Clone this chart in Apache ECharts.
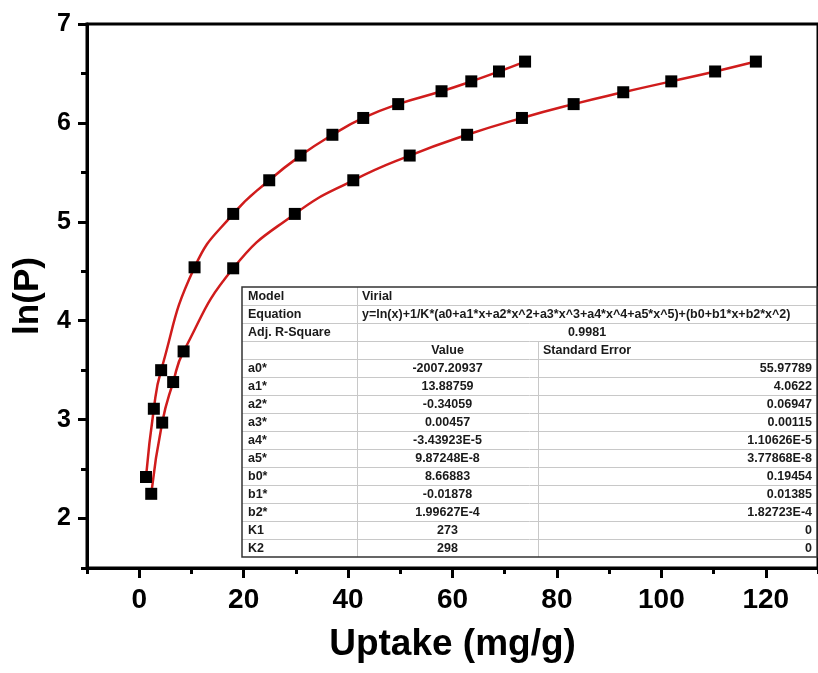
<!DOCTYPE html>
<html>
<head>
<meta charset="utf-8">
<script src="https://cdn.jsdelivr.net/npm/echarts@6/dist/echarts.min.js"></script>
<style>
  html, body { margin: 0; padding: 0; background: #fff; }
  #chart { width: 818px; height: 673px; }
</style>
</head>
<body>
<div id="chart"></div>
<script>
// data
var uptake273 = [1.3, 2.8, 4.2, 10.6, 18.0, 24.9, 30.9, 37.0, 42.9, 49.6, 57.9, 63.6, 68.9, 73.9];
var lnP273 = [2.42, 3.11, 3.50, 4.54, 5.08, 5.42, 5.67, 5.88, 6.05, 6.19, 6.32, 6.42, 6.52, 6.62];
var uptake298 = [2.3, 4.4, 6.5, 8.5, 18.0, 29.8, 41.0, 51.8, 62.8, 73.3, 83.2, 92.7, 101.9, 110.3, 118.1];
var lnP298 = [2.25, 2.97, 3.38, 3.69, 4.53, 5.08, 5.42, 5.67, 5.88, 6.05, 6.19, 6.31, 6.42, 6.52, 6.62];

var xMajor = [0, 20, 40, 60, 80, 100, 120];
var xMinor = [-10, 10, 30, 50, 70, 90, 110, 130];
var yMajor = [2, 3, 4, 5, 6, 7];
var yMinor = [1.5, 2.5, 3.5, 4.5, 5.5, 6.5];

// fit report table
var headRows = [
    ["Model", "Virial"],
    ["Equation", "y=ln(x)+1/K*(a0+a1*x+a2*x^2+a3*x^3+a4*x^4+a5*x^5)+(b0+b1*x+b2*x^2)"],
    ["Adj. R-Square", "0.9981"]
];
var paramNames = ["a0*", "a1*", "a2*", "a3*", "a4*", "a5*", "b0*", "b1*", "b2*", "K1", "K2"];
var paramValues = ["-2007.20937", "13.88759", "-0.34059", "0.00457", "-3.43923E-5", "9.87248E-8",
    "8.66883", "-0.01878", "1.99627E-4", "273", "298"];
var paramErrors = ["55.97789", "4.0622", "0.06947", "0.00115", "1.10626E-5", "3.77868E-8",
    "0.19454", "0.01385", "1.82723E-4", "0", "0"];

function pairs(xs, ys) {
    var out = [];
    for (var i = 0; i < xs.length; i++) out.push([xs[i], ys[i]]);
    return out;
}

// table drawn with graphic elements
function buildTable() {
    var x0 = 242, x1 = 357, x2 = 538, x3 = 817;
    var top = 287, rowH = 18;
    var nRows = headRows.length + 1 + paramNames.length;
    var bottom = top + nRows * rowH;
    var font = 'bold 12.5px "Liberation Sans", Arial, sans-serif';
    var col = '#1a1a1a';
    var els = [];
    els.push({ type: 'rect', shape: { x: x0, y: top, width: x3 - x0, height: bottom - top },
        style: { fill: '#fff', stroke: null }, z: 10 });
    // inner lines
    for (var r = 1; r < nRows; r++) {
        els.push({ type: 'line', shape: { x1: x0, y1: top + r * rowH + 0.5, x2: x3, y2: top + r * rowH + 0.5 },
            style: { stroke: '#c8c8c8', lineWidth: 1 }, z: 11 });
    }
    els.push({ type: 'line', shape: { x1: x1 + 0.5, y1: top, x2: x1 + 0.5, y2: bottom },
        style: { stroke: '#c8c8c8', lineWidth: 1 }, z: 11 });
    els.push({ type: 'line', shape: { x1: x2 + 0.5, y1: top + 3 * rowH, x2: x2 + 0.5, y2: bottom },
        style: { stroke: '#c8c8c8', lineWidth: 1 }, z: 11 });
    els.push({ type: 'rect', shape: { x: x0, y: top, width: x3 - x0, height: bottom - top },
        style: { fill: null, stroke: '#333', lineWidth: 1.5 }, z: 12 });

    function txt(x, y, s, align) {
        els.push({ type: 'text', x: x, y: y, z: 13,
            style: { text: s, font: font, fill: col, align: align, verticalAlign: 'middle' } });
    }
    for (var i = 0; i < headRows.length; i++) {
        var cy = top + i * rowH + rowH / 2 + 1;
        txt(x0 + 6, cy, headRows[i][0], 'left');
        if (i == 2) txt((x1 + x3) / 2, cy, headRows[i][1], 'center');
        else txt(x1 + 5, cy, headRows[i][1], 'left');
    }
    var hy = top + 3 * rowH + rowH / 2 + 1;
    txt((x1 + x2) / 2, hy, "Value", 'center');
    txt(x2 + 5, hy, "Standard Error", 'left');
    for (var j = 0; j < paramNames.length; j++) {
        var y = top + (4 + j) * rowH + rowH / 2 + 1;
        txt(x0 + 6, y, paramNames[j], 'left');
        txt((x1 + x2) / 2, y, paramValues[j], 'center');
        txt(x3 - 5, y, paramErrors[j], 'right');
    }
    return els;
}

var myChart = echarts.init(document.getElementById('chart'));
var axisFont = '"Liberation Sans Narrow", "Liberation Sans", Arial, sans-serif';
var option = {
    animation: false,
    backgroundColor: '#fff',
    grid: {
        left: 87, top: 24, right: -7, bottom: 105,
        show: true, borderColor: '#000', borderWidth: 3, backgroundColor: 'transparent'
    },
    xAxis: [{
        type: 'value', min: -10, max: 130,
        name: 'Uptake (mg/g)', nameLocation: 'middle', nameGap: 58,
        nameTextStyle: { fontFamily: axisFont, fontWeight: 'bold', fontSize: 37, color: '#000' },
        axisLine: { onZero: false, lineStyle: { color: '#000', width: 3 } },
        axisTick: { customValues: xMajor, length: 10, lineStyle: { color: '#000', width: 3 } },
        axisLabel: { customValues: xMajor, margin: 18, fontFamily: axisFont, fontWeight: 'bold', fontSize: 28, color: '#000' },
        splitLine: { show: false }
    }, {
        type: 'value', min: -10, max: 130, position: 'bottom',
        axisLine: { show: false, onZero: false },
        axisTick: { customValues: xMinor, length: 6, lineStyle: { color: '#000', width: 3 } },
        axisLabel: { show: false },
        splitLine: { show: false }
    }],
    yAxis: [{
        type: 'value', min: 1.5, max: 7,
        name: 'ln(P)', nameLocation: 'middle', nameGap: 40,
        nameTextStyle: { fontFamily: '"Liberation Sans", Arial, sans-serif', fontWeight: 'bold', fontSize: 35, color: '#000' },
        axisLine: { onZero: false, lineStyle: { color: '#000', width: 3 } },
        axisTick: { customValues: yMajor, length: 9, lineStyle: { color: '#000', width: 3 } },
        axisLabel: { customValues: yMajor, margin: 16, fontFamily: '"Liberation Sans", Arial, sans-serif', fontWeight: 'bold', fontSize: 25, color: '#000' },
        splitLine: { show: false }
    }, {
        type: 'value', min: 1.5, max: 7, position: 'left',
        axisLine: { show: false, onZero: false },
        axisTick: { customValues: yMinor, length: 6, lineStyle: { color: '#000', width: 3 } },
        axisLabel: { show: false },
        splitLine: { show: false }
    }],
    series: [{
        name: '273 K fit', type: 'line', data: pairs(uptake273, lnP273),
        smooth: 0.5, showSymbol: false,
        lineStyle: { color: '#d01c1c', width: 2.5 }, z: 2
    }, {
        name: '298 K fit', type: 'line', data: pairs(uptake298, lnP298),
        smooth: 0.5, showSymbol: false,
        lineStyle: { color: '#d01c1c', width: 2.5 }, z: 2
    }, {
        name: '273 K', type: 'scatter', data: pairs(uptake273, lnP273),
        symbol: 'rect', symbolSize: 12, itemStyle: { color: '#000', opacity: 1 }, z: 3
    }, {
        name: '298 K', type: 'scatter', data: pairs(uptake298, lnP298),
        symbol: 'rect', symbolSize: 12, itemStyle: { color: '#000', opacity: 1 }, z: 3
    }],
    graphic: buildTable()
};
myChart.setOption(option);
</script>
</body>
</html>
